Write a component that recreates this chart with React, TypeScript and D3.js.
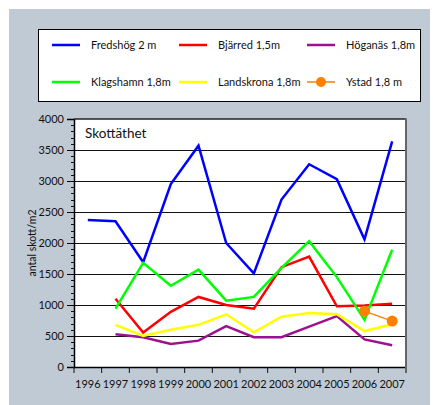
import React, { useEffect, useRef } from 'react';
import * as d3 from 'd3';

const years = ['1996', '1997', '1998', '1999', '2000', '2001', '2002', '2003', '2004', '2005', '2006', '2007'];

const fredshog = [2370, 2350, 1690, 2950, 3570, 2000, 1510, 2700, 3270, 3030, 2060, 3640];
const bjarred = [null, 1100, 555, 890, 1130, 1000, 940, 1610, 1780, 980, 990, 1020];
const hoganas = [null, 530, 480, 370, 425, 660, 480, 480, 650, 820, 445, 350];
const klagshamn = [null, 940, 1680, 1310, 1570, 1070, 1130, 1600, 2030, 1450, 760, 1890];
const landskrona = [null, 680, 500, 600, 680, 850, 560, 810, 870, 850, 580, 690];
const ystad = [null, null, null, null, null, null, null, null, null, null, 900, 740];

const yTicks = [0, 500, 1000, 1500, 2000, 2500, 3000, 3500, 4000];

const series = [
  { name: 'Fredshög 2 m', values: fredshog, color: '#0000ff' },
  { name: 'Bjärred 1,5m', values: bjarred, color: '#ff0000' },
  { name: 'Höganäs 1,8m', values: hoganas, color: '#9c1190' },
  { name: 'Klagshamn 1,8m', values: klagshamn, color: '#00ff00' },
  { name: 'Landskrona 1,8m', values: landskrona, color: '#ffff00' },
  { name: 'Ystad 1,8 m', values: ystad, color: '#ff8000', marker: true },
];

const App = () => {
  const ref = useRef<SVGSVGElement>(null);

  useEffect(() => {
    const svg = d3.select(ref.current);
    svg.selectAll('*').remove();
    const font = 'Lato, "Open Sans", sans-serif';
    const fs = 11;

    // grey panel
    svg.append('rect').attr('x', 9).attr('y', 9).attr('width', 421).attr('height', 396).attr('fill', '#c0cad4');

    // legend box
    svg.append('rect').attr('x', 38.5).attr('y', 29.5).attr('width', 382).attr('height', 72)
      .attr('fill', '#fff').attr('stroke', '#000').attr('stroke-width', 1);
    const colX = [52, 179, 307];
    const rowY = [45, 82];
    series.forEach((s, i) => {
      const cx = colX[i % 3];
      const cy = rowY[Math.floor(i / 3)];
      const g = svg.append('g');
      g.append('line').attr('x1', cx).attr('x2', cx + 28).attr('y1', cy).attr('y2', cy)
        .attr('stroke', s.color).attr('stroke-width', s.marker ? 1.5 : 2.5);
      if (s.marker) {
        g.append('circle').attr('cx', cx + 14).attr('cy', cy).attr('r', 5).attr('fill', s.color);
      }
      g.append('text').attr('x', cx + 39).attr('y', cy).attr('dy', '0.35em')
        .attr('font-family', font).attr('font-size', fs).attr('fill', '#111').text(s.name);
    });

    const left = 74, right = 406, top = 119, bottom = 367;

    svg.append('rect').attr('x', left).attr('y', top).attr('width', right - left).attr('height', bottom - top).attr('fill', '#fff');

    const x = d3.scaleBand().domain(years).range([left, right]);
    const y = d3.scaleLinear().domain([0, 4000]).range([bottom, top]);

    // gridlines
    svg.append('g').selectAll('line').data(yTicks.filter(t => t > 0 && t < 4000)).enter().append('line')
      .attr('x1', left).attr('x2', right).attr('y1', d => Math.round(y(d)) + 0.5).attr('y2', d => Math.round(y(d)) + 0.5)
      .attr('stroke', '#111').attr('stroke-width', 1);

    // minor ticks
    const minor = d3.range(0, 4001, 100).filter(v => v % 500 !== 0);
    svg.append('g').selectAll('line').data(minor).enter().append('line')
      .attr('x1', left - 3).attr('x2', left).attr('y1', d => Math.round(y(d)) + 0.5).attr('y2', d => Math.round(y(d)) + 0.5)
      .attr('stroke', '#111');

    // y axis
    const yAxis = svg.append('g').attr('transform', `translate(${left},0)`)
      .call(d3.axisLeft(y).tickValues(yTicks).tickFormat(d3.format('d')).tickSize(7).tickPadding(3));
    yAxis.select('.domain').attr('stroke', '#000').attr('stroke-width', 1.5);
    yAxis.selectAll('text').attr('font-family', font).attr('font-size', fs).attr('fill', '#111');

    // x axis
    const xTickPos = d3.range(0, years.length + 1).map(i => left + i * x.step());
    svg.append('line').attr('x1', left).attr('x2', right).attr('y1', bottom + 0.5).attr('y2', bottom + 0.5)
      .attr('stroke', '#000').attr('stroke-width', 1.5);
    svg.append('g').selectAll('line').data(xTickPos).enter().append('line')
      .attr('x1', d => d).attr('x2', d => d).attr('y1', bottom).attr('y2', bottom + 6)
      .attr('stroke', '#111');
    svg.append('g').selectAll('text').data(years).enter().append('text')
      .attr('x', d => (x(d) as number) + x.bandwidth() / 2).attr('y', 388)
      .attr('text-anchor', 'middle').attr('font-family', font).attr('font-size', fs).attr('fill', '#111')
      .text(d => d);

    // frame top and right
    svg.append('line').attr('x1', left).attr('x2', right).attr('y1', top).attr('y2', top).attr('stroke', '#222').attr('stroke-width', 1.5);
    svg.append('line').attr('x1', right).attr('x2', right).attr('y1', top - 0.5).attr('y2', bottom + 6)
      .attr('stroke', '#666').attr('stroke-width', 2);

    // y label
    svg.append('text').attr('transform', `translate(36,${(top + bottom) / 2}) rotate(-90)`)
      .attr('text-anchor', 'middle').attr('font-family', font).attr('font-size', 10.5).attr('fill', '#111')
      .text('antal skott/m2');

    svg.append('text').attr('x', 85).attr('y', 138).attr('font-family', font).attr('font-size', 13.5)
      .attr('fill', '#111').text('Skottäthet');

    // series
    const cxOf = (i: number) => (x(years[i]) as number) + x.bandwidth() / 2;
    series.forEach(s => {
      const pts = s.values.map((v, i) => ({ v, i })).filter(p => p.v !== null) as { v: number; i: number }[];
      const line = d3.line<{ v: number; i: number }>().x(p => cxOf(p.i)).y(p => y(p.v));
      svg.append('path').datum(pts).attr('d', line).attr('fill', 'none')
        .attr('stroke', s.color).attr('stroke-width', s.marker ? 1.3 : 2.5).attr('stroke-linejoin', 'miter');
      if (s.marker) {
        svg.append('g').selectAll('circle').data(pts).enter().append('circle')
          .attr('cx', p => cxOf(p.i)).attr('cy', p => y(p.v)).attr('r', 5.5).attr('fill', s.color);
      }
    });
  }, []);

  return (
    <svg ref={ref} width={433} height={405} style={{ position: 'absolute', left: 0, top: 0 }} />
  );
};

export default App;
